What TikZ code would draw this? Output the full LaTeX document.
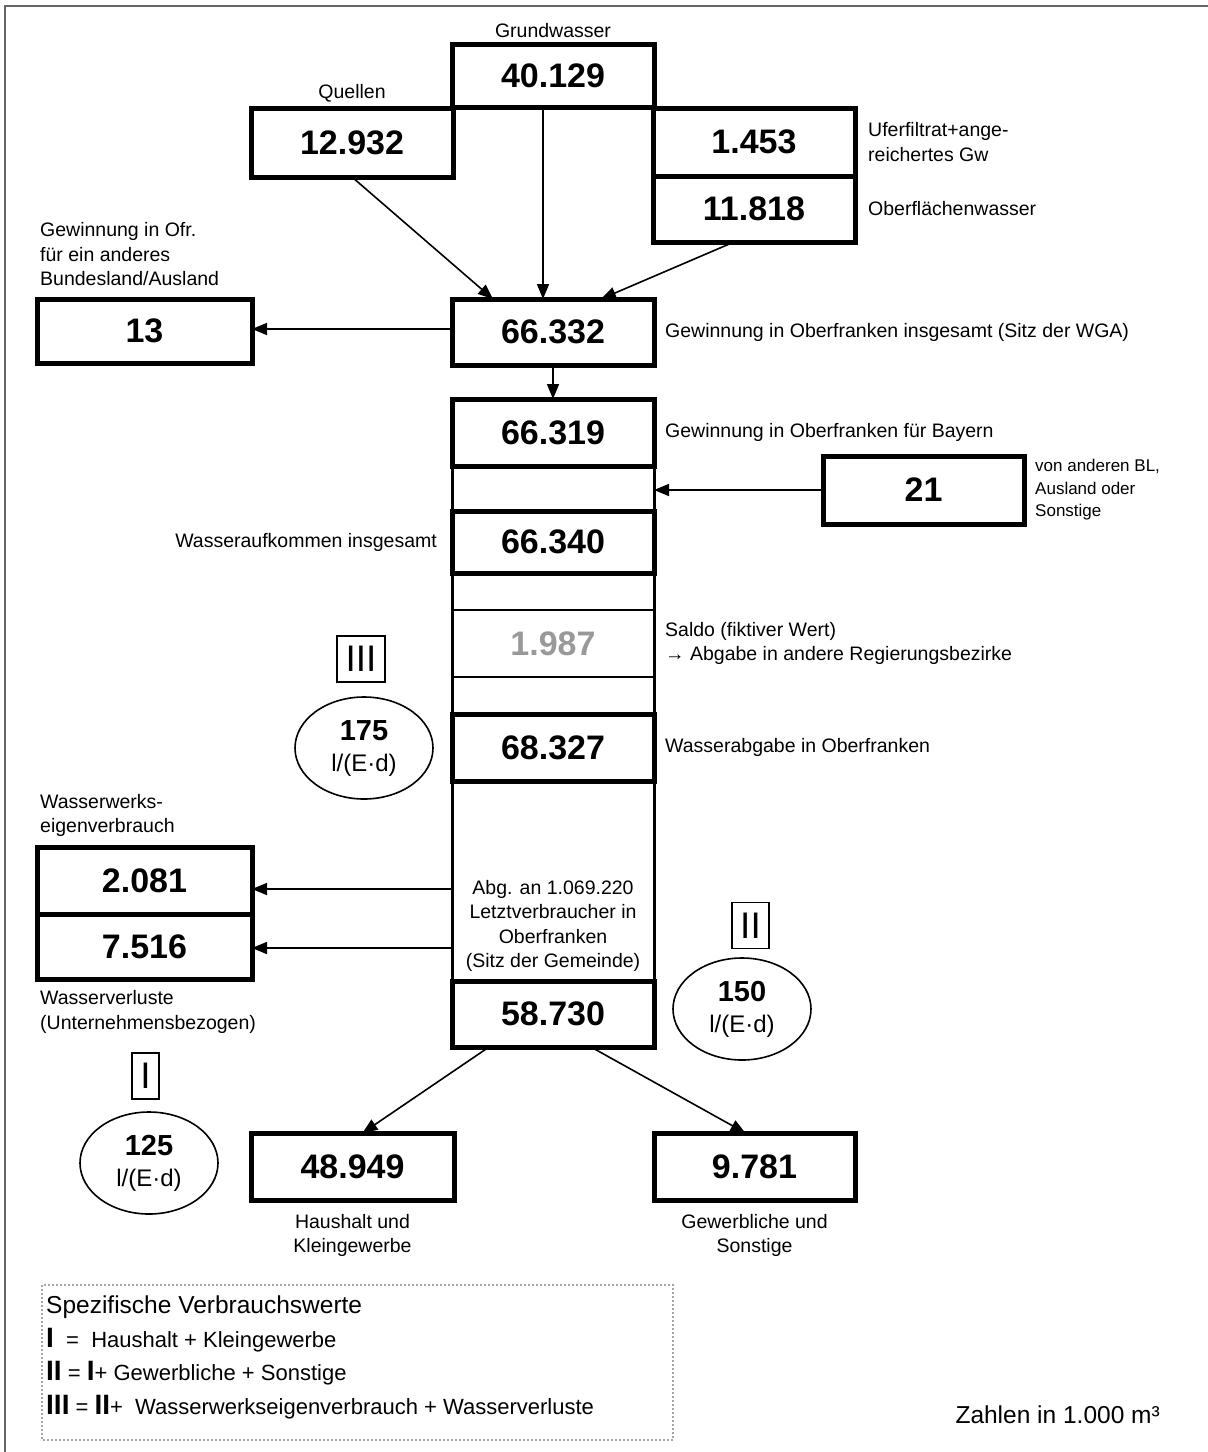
\documentclass[tikz,border=0pt]{standalone}
\usepackage{fontspec}
\setmainfont{Liberation Sans}
\usetikzlibrary{positioning,arrows.meta,shapes.geometric}
\newcommand{\romnum}[1]{{\fontsize{28}{28}\selectfont\bfseries #1}}
\tikzset{
  numbox/.style={draw, line width=5pt, minimum width=202pt, minimum height=66pt,
    inner sep=0pt, outer sep=0pt, font=\fontsize{34}{36}\selectfont\bfseries},
  saldobox/.style={numbox, line width=2.8pt, text=black!40},
  lbl/.style={font=\fontsize{19.5}{24.5}\selectfont, inner sep=0pt, align=left},
  smalllbl/.style={font=\fontsize{17}{22.5}\selectfont, inner sep=0pt, align=left},
  flow/.style={-{Triangle[length=15pt,width=12pt]}, line width=1.6pt},
  romanbox/.style={draw, line width=1.6pt, minimum height=46pt, inner xsep=8.5pt,
    inner ysep=0pt, font=\fontsize{37}{37}\selectfont},
  spec/.style={draw, ellipse, line width=1.6pt, minimum width=138pt, minimum height=102pt,
    align=center, inner sep=0pt, font=\fontsize{24}{31}\selectfont}
}
\begin{document}
\begin{tikzpicture}[x=1pt,y=-1pt]
\useasboundingbox (0,0) rectangle (1208,1452);
% frame
\draw[line width=2pt, black!60] (5,6) rectangle (1230,1470);

% sources
\node[numbox, minimum height=63pt] (gw) at (553,75.5) {40.129};
\node[numbox, minimum height=69pt] (quellen) at (352,142.5) {12.932};
\node[numbox, minimum height=68pt] (ufer) at (754,142) {1.453};
\node[numbox] (ofw) at (754,209) {11.818};
\node[lbl, anchor=south] at ([yshift=6pt]gw.north) {Grundwasser};
\node[lbl, anchor=south] at ([yshift=6pt]quellen.north) {Quellen};
\node[lbl, right=13pt of ufer] {Uferfiltrat+ange-\\reichertes Gw};
\node[lbl, right=13pt of ofw] {Oberflächenwasser};

% Gewinnung
\node[numbox] (ges) at (553,332) {66.332};
\node[numbox, minimum width=215pt, minimum height=64pt] (ausl) at (144.5,331) {13};
\node[lbl, anchor=west] at (40,254.5) {Gewinnung in Ofr.\\für ein anderes\\Bundesland/Ausland};
\node[lbl, right=11pt of ges] {Gewinnung in Oberfranken insgesamt (Sitz der WGA)};
\coordinate (gwout) at ([xshift=-10pt]gw.south);
\draw[flow] (quellen.south) -- ([xshift=-60pt]ges.north);
\draw[flow] (gwout) -- (gwout |- ges.north);
\draw[flow] ([xshift=-20pt]ofw.south) -- ([xshift=48pt]ges.north);
\draw[flow] ([yshift=3pt]ges.west) -- ([yshift=3pt]ges.west -| ausl.east);

% column
\node[numbox, minimum height=67pt] (bay) at (553,432.5) {66.319};
\node[numbox, minimum height=62pt] (auf) at (553,542) {66.340};
\node[saldobox, minimum height=67pt] (saldo) at (553,643.5) {1.987};
\node[numbox, minimum height=67pt] (abg) at (553,747.5) {68.327};
\node[numbox] (letzt) at (553,1014) {58.730};
\draw[line width=3pt] (bay.north west) -- (letzt.south west);
\draw[line width=3pt] (bay.north east) -- (letzt.south east);
\draw[flow] (ges.south) -- (bay.north);
\node[lbl, right=11pt of bay] {Gewinnung in Oberfranken für Bayern};
\node[lbl, left=15pt of auf] {Wasseraufkommen insgesamt};
\node[lbl, right=11pt of saldo] {Saldo (fiktiver Wert)\\→ Abgabe in andere Regierungsbezirke};
\node[lbl, right=11pt of abg] {Wasserabgabe in Oberfranken};
\node[lbl, align=center] (letztlbl) at (553,926) {Abg. an 1.069.220\\Letztverbraucher in\\Oberfranken\\(Sitz der Gemeinde)};

% Bezug von außen
\node[numbox, minimum width=201pt, minimum height=68pt] (zu) at (923.5,490) {21};
\node[smalllbl, right=11pt of zu] {von anderen BL,\\Ausland oder\\Sonstige};
\draw[flow] (zu.west) -- (zu.west -| bay.east);

% Eigenverbrauch und Verluste
\node[numbox, minimum width=215pt, minimum height=67pt] (eigen) at (144.5,880.5) {2.081};
\node[numbox, minimum width=215pt, minimum height=65pt] (verl) at (144.5,946.5) {7.516};
\node[lbl, anchor=west] at (40,815.5) {Wasserwerks-\\eigenverbrauch};
\node[lbl, anchor=west] at (40,1012) {Wasserverluste\\(Unternehmensbezogen)};
\coordinate (eigenout) at (451,889);
\coordinate (verlout) at (451,948);
\draw[flow] (eigenout) -- (eigenout -| eigen.east);
\draw[flow] (verlout) -- (verlout -| verl.east);

% Letztverbraucher
\node[numbox, minimum width=203pt, minimum height=67pt] (hh) at (352.5,1166.5) {48.949};
\node[numbox, minimum width=201pt, minimum height=67pt] (gew) at (754.5,1166.5) {9.781};
\node[lbl, align=center, below=14pt of hh] {Haushalt und\\Kleingewerbe};
\node[lbl, align=center, below=14pt of gew] {Gewerbliche und\\Sonstige};
\draw[flow] ([xshift=-64pt]letzt.south) -- ([xshift=10pt]hh.north);
\draw[flow] ([xshift=38pt]letzt.south) -- ([xshift=-9pt]gew.north);

% spezifische Verbrauchswerte
\node[romanbox] (romIII) at (361,659) {III};
\node[spec] (verbIII) at (364,748) {\textbf{\fontsize{29}{31}\selectfont 175}\\l/(E·d)};
\node[romanbox] (romII) at (750.5,925.5) {II};
\node[spec] (verbII) at (742,1009) {\textbf{\fontsize{29}{31}\selectfont 150}\\l/(E·d)};
\node[romanbox] (romI) at (145.5,1076) {I};
\node[spec] (verbI) at (149,1163) {\textbf{\fontsize{29}{31}\selectfont 125}\\l/(E·d)};

% legend
\draw[black!35, line width=2.5pt, dash pattern=on 2pt off 2pt] (42,1285) rectangle (673,1440);
\node[lbl, anchor=west, font=\fontsize{24.5}{26}\selectfont] (spez) at (46,1307) {Spezifische Verbrauchswerte};
\node[lbl, anchor=west, font=\fontsize{22}{26}\selectfont] (defI) at (46,1340) {\romnum{I}\ \ = \ Haushalt + Kleingewerbe};
\node[lbl, anchor=west, font=\fontsize{22}{26}\selectfont] (defII) at (46,1373) {\romnum{II} = \romnum{I}+ Gewerbliche + Sonstige};
\node[lbl, anchor=west, font=\fontsize{22}{26}\selectfont] (defIII) at (46,1407) {\romnum{III} = \romnum{II}+ \ Wasserwerkseigenverbrauch + Wasserverluste};
\node[lbl, anchor=east, font=\fontsize{24.5}{26}\selectfont] (einheit) at (1160,1415) {Zahlen in 1.000 m³};
\end{tikzpicture}
\end{document}
